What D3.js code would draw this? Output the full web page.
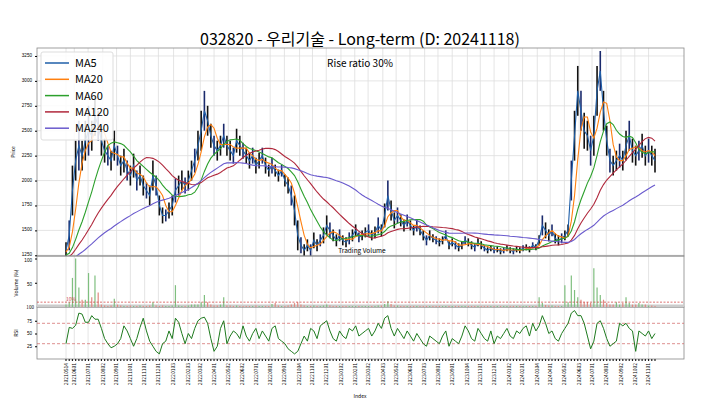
<!DOCTYPE html>
<html><head><meta charset="utf-8">
<script src="https://cdn.jsdelivr.net/npm/d3@7"></script>
<style>body{margin:0;background:#fff}svg{display:block;font-family:"Noto Sans CJK KR","Noto Sans",sans-serif}</style>
</head><body><svg id="c" width="720" height="404"></svg>
<script>
const title = "032820 - 우리기술 - Long-term (D: 20241118)";
const startDate = "20210514";
const tickLabels = ["20210514","20210601","20210701","20210802","20210901","20211001","20211101","20211201","20220103","20220203","20220302","20220401","20220502","20220602","20220701","20220801","20220901","20221004","20221101","20221201","20230102","20230201","20230302","20230403","20230502","20230601","20230703","20230801","20230901","20231004","20231101","20231201","20240102","20240201","20240304","20240401","20240502","20240603","20240701","20240801","20240902","20241002","20241101"];
const priceTicks = [1250,1500,1750,2000,2250,2500,2750,3000,3250];
// weekly closes before the chart window (used only for moving averages)
const priorCloses = [1150,1160,1140,1130,1150,1170,1160,1150,1140,1130,
1120,1130,1150,1160,1180,1170,1160,1150,1140,1150,
1160,1170,1180,1200,1190,1180,1170,1160,1180,1200,
1210,1220,1200,1190,1210,1230,1240,1230,1220,1210,
1230,1250,1260,1240,1250,1270,1280,1290];
// weekly closes
const closes = [1300,1450,1900,2200,2350,2250,2400,2500,2450,2650,
2550,2400,2300,2250,2200,2350,2250,2150,2200,2100,
2050,2150,2000,2050,1950,1900,1850,2050,1950,1750,
1650,1650,1700,1750,1900,1950,2000,1950,2000,2100,
2200,2350,2500,2700,2600,2450,2350,2300,2350,2450,
2350,2300,2250,2400,2350,2300,2250,2200,2250,2150,
2200,2250,2150,2100,2150,2100,2050,2100,2000,1950,
1850,1700,1450,1350,1300,1350,1300,1400,1350,1400,
1450,1550,1500,1450,1400,1450,1400,1380,1420,1450,
1500,1430,1450,1480,1500,1450,1480,1550,1500,1650,
1850,1700,1600,1650,1600,1550,1600,1550,1500,1550,
1500,1450,1400,1450,1420,1400,1380,1400,1450,1350,
1380,1350,1330,1350,1400,1380,1350,1330,1380,1350,
1320,1300,1320,1300,1310,1290,1300,1320,1300,1290,
1310,1300,1320,1330,1310,1350,1330,1400,1550,1500,
1450,1500,1420,1400,1420,1450,1500,2000,2450,2900,
2700,2500,2450,2300,2450,2900,3100,2700,2400,2200,
2150,2200,2250,2200,2350,2450,2300,2250,2300,2350,
2250,2300,2250,2200];
// weekly half-range of high/low
const swing = [80,150,250,200,250,150,200,250,150,200,
150,150,120,100,100,150,100,100,120,100,
100,120,100,100,100,80,100,150,100,100,
80,60,80,100,120,100,100,80,100,100,
120,150,200,200,150,120,100,100,100,120,
100,100,80,120,100,80,80,80,80,80,
80,80,80,60,80,60,60,60,60,80,
100,150,150,80,60,60,60,80,60,60,
80,100,80,60,60,60,50,50,60,60,
60,50,50,50,60,50,60,80,60,120,
150,100,80,80,60,60,60,50,50,60,
50,50,50,50,40,40,40,40,50,40,
40,40,40,40,40,40,40,40,40,40,
30,30,30,30,30,30,30,30,30,30,
30,30,30,30,30,30,30,50,100,80,
60,60,50,50,50,50,60,200,250,250,
200,180,150,150,200,250,200,200,150,120,
100,100,120,100,150,150,120,100,100,120,
100,120,100,120];
const volume = [5,10,60,100,40,15,15,70,20,65,
30,5,3,2,3,17,5,3,2,2,
3,2,2,3,2,2,3,10,3,2,
3,2,2,3,45,3,2,2,3,5,
5,5,10,25,10,5,3,3,5,20,
3,3,2,3,2,2,2,2,2,3,
2,2,2,2,6,8,3,2,2,3,
5,8,10,5,3,2,2,3,2,2,
3,5,3,2,2,2,2,2,2,2,
2,2,2,2,2,2,2,3,3,6,
12,6,3,3,2,2,2,2,2,2,
2,2,2,2,2,2,2,2,2,2,
2,2,2,2,2,2,2,2,2,2,
2,2,2,2,2,2,2,2,2,2,
2,2,2,2,2,2,2,20,8,4,
3,3,2,2,2,45,10,65,35,20,
15,10,10,8,80,40,25,15,8,5,
5,10,5,8,20,8,5,5,8,5,
5,3,3,2];
const rsi = [30,62,60,66,90,88,72,72,85,78,
78,60,40,30,22,25,30,40,65,55,
40,25,40,62,80,55,35,25,15,10,
30,35,55,40,80,72,50,30,50,40,
60,75,80,82,70,40,15,25,60,75,
30,45,55,50,40,65,45,35,50,60,
40,55,45,35,60,65,40,35,30,20,
15,10,15,30,45,35,60,55,40,65,
70,75,55,40,35,55,45,40,60,55,
65,45,50,55,60,45,55,70,60,80,
85,60,45,60,50,40,55,45,35,50,
40,30,25,45,40,35,30,45,55,25,
40,35,30,45,65,55,40,35,60,50,
40,35,55,30,45,40,50,60,45,40,
55,50,60,65,45,70,55,65,85,70,
50,55,40,35,50,60,70,90,95,85,
85,70,45,20,35,70,75,60,40,25,
30,35,70,65,70,60,55,15,55,50,
45,55,40,50];
const maDefs = [["MA5",1,"#1f5fa8"],["MA20",4,"#ff7f0e"],["MA60",12,"#2ca02c"],["MA120",24,"#b0283c"],["MA240",48,"#6a5acd"]];

const svg = d3.select("#c");
const L=37,R=684,T=48,B1=256,B2=307,B3=359;
const n = closes.length;
const x = d3.scaleLinear().domain([0,n-1]).range([66,655]);
const y = d3.scaleLinear().domain([1243,3330]).range([B1,T]);
const yv = d3.scaleLinear().domain([0,100]).range([B2,B1+2.5]);
const yr = d3.scaleLinear().domain([0,100]).range([B3,B2+1]);
const parse = d3.timeParse("%Y%m%d");
const s0 = parse(startDate);
const wk = s => d3.timeDay.count(s0, parse(s))/7;
const fmt = d3.format("d");

svg.append("text").attr("x",360).attr("y",45).attr("text-anchor","middle").attr("font-size",16).text(title);

const g = svg.append("g");
tickLabels.forEach(t=>{
  g.append("line").attr("x1",x(wk(t))).attr("x2",x(wk(t))).attr("y1",T).attr("y2",B3).attr("stroke","#ddd").attr("stroke-width",0.8);
});
priceTicks.forEach(p=>{
  g.append("line").attr("x1",L).attr("x2",R).attr("y1",y(p)).attr("y2",y(p)).attr("stroke","#ddd").attr("stroke-width",0.8);
});

svg.append("defs").append("clipPath").attr("id","pc").append("rect").attr("x",L).attr("y",T).attr("width",R-L).attr("height",B1-T);
const cg = svg.append("g").attr("clip-path","url(#pc)");
closes.forEach((c,i)=>{
  cg.append("line").attr("x1",x(i)).attr("x2",x(i)).attr("y1",y(c+swing[i])).attr("y2",y(c-swing[i])).attr("stroke",i%3==1?"#1a2a6c":"#111").attr("stroke-width",1.6);
});
const all = priorCloses.concat(closes), off = priorCloses.length;
maDefs.forEach(([name,w,col])=>{
  const ma = closes.map((c,i)=>d3.mean(all.slice(off+i-w+1,off+i+1)));
  cg.append("path").datum(ma).attr("fill","none").attr("stroke",col).attr("stroke-width",1.1)
    .attr("d",d3.line().x((d,i)=>x(i)).y(d=>y(d)));
});

[[T,B1],[B1,B2],[B2,B3]].forEach(([a,b])=>svg.append("rect").attr("x",L).attr("y",a).attr("width",R-L).attr("height",b-a).attr("fill","none").attr("stroke","#888").attr("stroke-width",0.8));

svg.append("g").attr("transform",`translate(${L},0)`).call(d3.axisLeft(y).tickValues(priceTicks).tickFormat(fmt).tickSize(2)).call(a=>{a.select(".domain").remove();a.selectAll("text").attr("font-size",4.6).attr("dy","0.1em");});

const lg = svg.append("g");
lg.append("rect").attr("x",41).attr("y",52).attr("width",72).attr("height",88).attr("fill","#fff").attr("fill-opacity",0.85).attr("stroke","#ddd").attr("rx",2);
maDefs.forEach(([name,w,col],i)=>{
  const yy = 63+i*16.3;
  lg.append("line").attr("x1",45).attr("x2",69).attr("y1",yy).attr("y2",yy).attr("stroke",col).attr("stroke-width",1.5);
  lg.append("text").attr("x",75).attr("y",yy+4).attr("font-size",11).text(name);
});
svg.append("text").attr("x",360).attr("y",67).attr("text-anchor","middle").attr("font-size",10).text("Rise ratio 30%");
svg.append("text").attr("x",362).attr("y",253).attr("text-anchor","middle").attr("font-size",6.5).text("Trading Volume");

svg.append("rect").attr("x",L).attr("y",B2-2.5).attr("width",R-L).attr("height",2.5).attr("fill","#ccc");
volume.forEach((v,i)=>{
  const up = i==0 || closes[i]>=closes[i-1];
  svg.append("line").attr("x1",x(i)).attr("x2",x(i)).attr("y1",yv(0)).attr("y2",yv(v)).attr("stroke",up?"#7fbf7f":"#e08a80").attr("stroke-width",1.2);
});
svg.append("line").attr("x1",L).attr("x2",R).attr("y1",yv(10)).attr("y2",yv(10)).attr("stroke","#c33").attr("stroke-width",0.7).attr("stroke-dasharray","2,1.5");
svg.append("text").attr("x",66).attr("y",yv(10)-1).attr("font-size",5).attr("fill","#c44").text("10%");
svg.append("g").attr("transform",`translate(${L},0)`).call(d3.axisLeft(yv).tickValues([50,100]).tickSize(2)).call(a=>{a.select(".domain").remove();a.selectAll("text").attr("font-size",4.6).attr("dy","0.7em");});

[30,70].forEach(v=>svg.append("line").attr("x1",L).attr("x2",R).attr("y1",yr(v)).attr("y2",yr(v)).attr("stroke","#d06060").attr("stroke-width",0.7).attr("stroke-dasharray","3,2"));
svg.append("path").datum(rsi).attr("fill","none").attr("stroke","#1e7a1e").attr("stroke-width",1)
  .attr("d",d3.line().x((d,i)=>x(i)).y(d=>yr(d)));
svg.append("g").attr("transform",`translate(${L},0)`).call(d3.axisLeft(yr).tickValues([25,50,75]).tickSize(2)).call(a=>{a.select(".domain").remove();a.selectAll("text").attr("font-size",4.6);});
svg.append("text").attr("x",L-3).attr("y",B2+2).attr("text-anchor","end").attr("font-size",4.6).text("100");

const xa = svg.append("g").attr("transform",`translate(0,${B3})`);
closes.forEach((c,i)=>xa.append("line").attr("x1",x(i)).attr("x2",x(i)).attr("y1",0).attr("y2",2).attr("stroke","#222").attr("stroke-width",1.2));
tickLabels.forEach(t=>{
  xa.append("text").attr("transform",`translate(${x(wk(t))+1.8},4) rotate(-90)`).attr("text-anchor","end").attr("font-size",5).text(t);
});
svg.append("text").attr("x",360).attr("y",398).attr("text-anchor","middle").attr("font-size",5).text("Index");
[["Price",15,152],["Volume (%)",18,283],["RSI",18,333]].forEach(([t,xx,yy])=>svg.append("text").attr("transform",`translate(${xx},${yy}) rotate(-90)`).attr("text-anchor","middle").attr("font-size",5).text(t));
</script></body></html>
